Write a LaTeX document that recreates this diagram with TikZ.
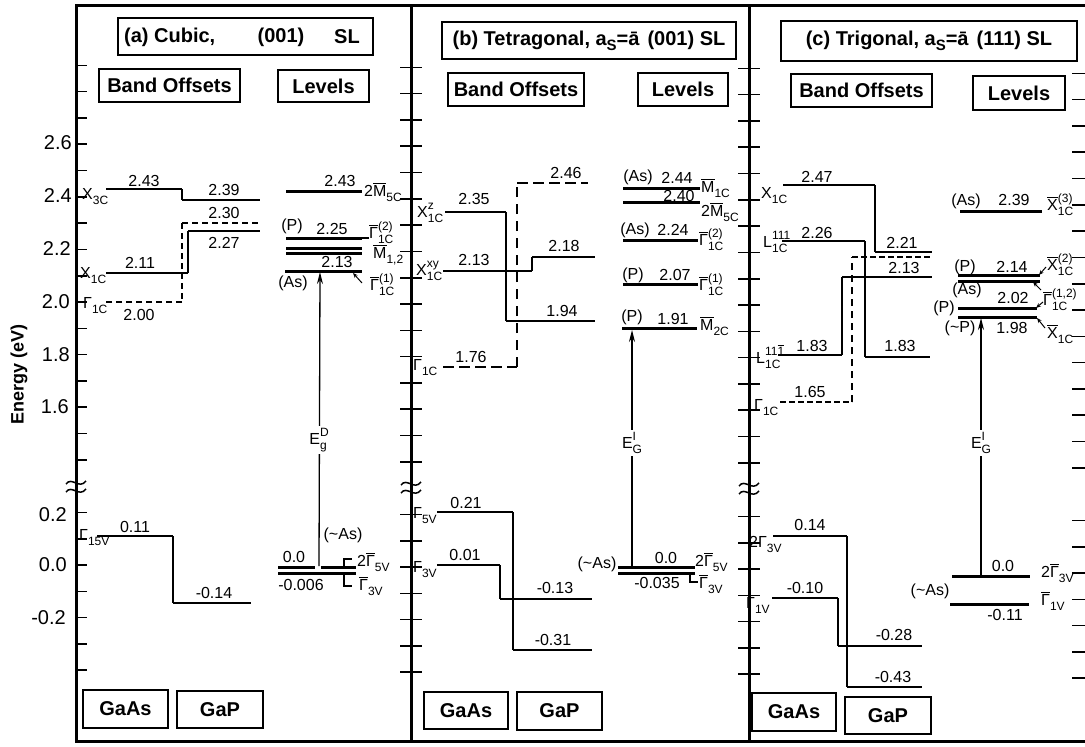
\documentclass[tikz,border=0pt]{standalone}
\usepackage{fontspec}
\setmainfont{Liberation Sans}
\usetikzlibrary{arrows.meta}
\newcommand\fnum{\fontsize{16}{18}\selectfont}
\newcommand\fbx{\fontsize{20}{24}\selectfont\bfseries}
\newcommand\fax{\fontsize{20}{24}\selectfont}
\newcommand\Ss[3]{#1\begingroup\fontsize{12}{12}\selectfont\setbox0=\hbox{#3}\setbox2=\hbox{#2}\ifdim\wd0>\wd2 \wd2=\wd0 \fi\rlap{\raisebox{8pt}{\box0}}\raisebox{-5pt}{\box2}\endgroup}
\newcommand\Sb[2]{#1\raisebox{-5pt}{\fontsize{12}{12}\selectfont #2}}
\newcommand\bb[1]{\ensuremath{\overline{\hbox{#1}}}}
\begin{document}
\begin{tikzpicture}[x=1pt,y=-1pt,
  hb/.style={line width=2.6pt},
  vb/.style={line width=1.4pt},
  lv/.style={line width=3pt},
  ds/.style={line width=1.6pt,dash pattern=on 6pt off 4pt},
  dsb/.style={line width=2pt,dash pattern=on 11pt off 5pt},
  dsc/.style={line width=2.6pt,dash pattern=on 6pt off 3pt},
  nm/.style={font=\fnum,inner sep=0pt},
  bx/.style={draw,line width=1.8pt,font=\fbx,inner sep=0pt},
  tk/.style={line width=1.6pt},
  frm/.style={line width=3pt},
  arr/.style={line width=1.3pt,-{Stealth[length=12pt,width=6pt]}},
  ld/.style={line width=1pt,-{Stealth[length=5pt,width=4pt]}},
  hook/.style={line width=1.1pt},
  brk/.pic={\draw[line width=1.5pt] (-10,-1) .. controls (-4,-9) and (3,5) .. (10,-4);
            \draw[line width=1.5pt] (-10,7) .. controls (-4,-1) and (3,13) .. (10,4);}
]
\useasboundingbox (0,0) rectangle (1085,747);
% frame
\draw[frm] (1085,5) -- (76,5) -- (76,741) -- (1085,741);
\draw[frm] (411,5) -- (411,741);
\draw[frm] (749,5) -- (749,741);
% ticks
\foreach \k in {14,...,29}{
  \draw[tk] (76,{828-26.3*\k}) -- (87,{828-26.3*\k});
  \draw[tk] (400,{830-26.3*\k}) -- (422,{830-26.3*\k});
  \draw[tk] (738,{831-26.3*\k}) -- (760,{831-26.3*\k});
  \draw[tk] (1072,{836-26.3*\k}) -- (1085,{836-26.3*\k});
}
\foreach \k in {-4,...,2}{
  \draw[tk] (76,{565-26.3*\k}) -- (87,{565-26.3*\k});
  \draw[tk] (400,{567-26.3*\k}) -- (422,{567-26.3*\k});
  \draw[tk] (738,{569-26.3*\k}) -- (760,{569-26.3*\k});
  \draw[tk] (1072,{573-26.3*\k}) -- (1085,{573-26.3*\k});
}
\pic at (76,485) {brk};
\pic at (411,486) {brk};
\pic at (749,487) {brk};
% y axis labels
\node[font=\fax,inner sep=0pt,anchor=east] (y1) at (72,143) {2.6};
\node[font=\fax,inner sep=0pt,anchor=east] (y2) at (72,196) {2.4};
\node[font=\fax,inner sep=0pt,anchor=east] (y3) at (71,249) {2.2};
\node[font=\fax,inner sep=0pt,anchor=east] (y4) at (70,302) {2.0};
\node[font=\fax,inner sep=0pt,anchor=east] (y5) at (70,355) {1.8};
\node[font=\fax,inner sep=0pt,anchor=east] (y6) at (69,407) {1.6};
\node[font=\fax,inner sep=0pt,anchor=east] (y7) at (67,515) {0.2};
\node[font=\fax,inner sep=0pt,anchor=east] (y8) at (67,565) {0.0};
\node[font=\fax,inner sep=0pt,anchor=east] (y9) at (66,618) {-0.2};
\node[font=\fontsize{18}{20}\selectfont\bfseries,rotate=90,inner sep=0pt] (ylab) at (19,374) {Energy (eV)};

% ================= panel (a)
\node[bx,minimum width=255pt,minimum height=37pt] (ta) at (245.5,36.5) {};
\node[font=\fbx,inner sep=0pt,anchor=west] (ta1) at (124,37) {(a) Cubic,};
\node[font=\fbx,inner sep=0pt] (ta2) at (281,37) {(001)};
\node[font=\fbx,inner sep=0pt] (ta3) at (347,37) {SL};
\node[bx,minimum width=141pt,minimum height=33pt] (boa) at (169.5,85.5) {Band Offsets};
\node[bx,minimum width=91pt,minimum height=32pt] (lva) at (323.5,86) {Levels};
\node[bx,minimum width=85pt,minimum height=38pt] (gaa) at (125.5,709) {GaAs};
\node[bx,minimum width=86pt,minimum height=37pt] (gpa) at (220,709.5) {GaP};
% band offsets
\draw[hb] (106,189) -- (182,189);
\draw[vb] (182,189) -- (182,200);
\draw[hb] (182,200) -- (260,200);
\draw[ds] (182,223) -- (261,223);
\draw[ds,line width=1.2pt] (182,223) -- (182,302);
\draw[ds] (182,302) -- (106,302);
\draw[hb] (188,231) -- (260,231);
\draw[vb] (188,231) -- (188,273);
\draw[hb] (188,273) -- (106,273);
\draw[hb] (97,536) -- (173,536);
\draw[vb] (173,536) -- (173,603);
\draw[hb] (173,603) -- (251,603);
\node[nm] (a1) at (144,181) {2.43};
\node[nm] (a2) at (224,190) {2.39};
\node[nm] (a3) at (224,213) {2.30};
\node[nm] (a4) at (224,243) {2.27};
\node[nm] (a5) at (140,263) {2.11};
\node[nm] (a6) at (139,315) {2.00};
\node[nm] (a7) at (135,527) {0.11};
\node[nm] (a8) at (214,593) {-0.14};
\node[nm,anchor=base west] (a9) at (82,199) {\Sb{X}{3C}};
\node[nm,anchor=base west] (a9b) at (80,278) {\Sb{X}{1C}};
\node[nm,anchor=base west] (a9c) at (83,308) {\Sb{Γ}{1C}};
\node[nm,anchor=base west] (a9d) at (79,540) {\Sb{Γ}{15V}};
% levels
\draw[lv] (286,191) -- (362,191);
\draw[lv] (286,238) -- (362,238);
\draw[lv] (286,248) -- (362,248);
\draw[lv] (286,253.5) -- (362,253.5);
\draw[lv] (285,271) -- (362,271);
\draw[lv] (278,567) -- (315,567);
\draw[lv] (321,567) -- (356,567);
\draw[lv] (278,573) -- (356,573);
\node[nm] (a10) at (340,181) {2.43};
\node[nm,anchor=base west] (a11) at (364,196) {2\bb{M}\Sb{}{5C}};
\node[nm] (a12) at (292,226) {(P)};
\node[nm] (a13) at (332,229) {2.25};
\node[nm,anchor=base west] (a14) at (369,238) {\Ss{\bb{Γ}}{1C}{(2)}};
\coordinate (a13e) at (362,238);
\draw[hook] (a13e) -- (a14.base west);
\node[nm,anchor=base west] (a15) at (373,258) {\Sb{\bb{M}}{1,2}};
\node[nm] (a16) at (337,262) {2.13};
\node[nm] (a17) at (293,283) {(As)};
\node[nm,anchor=base west] (a17b) at (370,290) {\Ss{\bb{Γ}}{1C}{(1)}};
\coordinate (a17e) at (353,273);
\draw[ld] (362,283) -- (a17e);
\coordinate (ea0) at (319,566);
\coordinate (ea1) at (320,272);
\draw[arr] (ea0) -- (ea1);
\node[nm,fill=white,inner sep=2pt] (a18) at (319,440) {\Ss{E}{g}{D}};
\node[nm] (a19) at (343,535) {(\textasciitilde As)};
\node[nm] (a20) at (294,557) {0.0};
\node[nm] (a21) at (301,585) {-0.006};
\draw[hook] (344,567) -- (344,559) -- (352,559);
\draw[hook] (344,573) -- (344,586) -- (352,586);
\node[nm,anchor=base west] (a22) at (357,566) {2\bb{Γ}\Sb{}{5V}};
\node[nm,anchor=base west] (a23) at (359,590) {\bb{Γ}\Sb{}{3V}};

% ================= panel (b)
\node[bx,minimum width=294pt,minimum height=37pt] (tb) at (589,40.5) {(b) Tetragonal, a\raisebox{-5pt}{\fontsize{15}{15}\selectfont S}=ā\hspace{8pt}(001) SL};
\node[bx,minimum width=136pt,minimum height=33pt] (bob) at (516,89.5) {Band Offsets};
\node[bx,minimum width=90pt,minimum height=33pt] (lvb) at (683,89.5) {Levels};
\node[bx,minimum width=84pt,minimum height=37pt] (gab) at (466,710.5) {GaAs};
\node[bx,minimum width=85pt,minimum height=38pt] (gpb) at (559.5,711) {GaP};
\draw[hb] (445,212) -- (506,212);
\draw[vb] (506,212) -- (506,321);
\draw[hb] (506,321) -- (595,321);
\draw[hb] (443,271) -- (532,271);
\draw[vb] (532,271) -- (532,257);
\draw[hb] (532,257) -- (595,257);
\draw[dsb] (443,367) -- (517,367);
\draw[dsb,line width=1.2pt,dash pattern=on 10pt off 7pt] (517,367) -- (517,183);
\draw[dsb] (517,183) -- (588,183);
\draw[hb] (437,512) -- (513,512);
\draw[vb] (513,512) -- (513,650);
\draw[hb] (513,650) -- (592,650);
\draw[hb] (437,565) -- (500,565);
\draw[vb] (500,565) -- (500,599);
\draw[hb] (500,599) -- (592,599);
\node[nm] (b1) at (474,199) {2.35};
\node[nm] (b2) at (474,260) {2.13};
\node[nm] (b3) at (471,357) {1.76};
\node[nm] (b4) at (566,173) {2.46};
\node[nm] (b5) at (564,246) {2.18};
\node[nm] (b6) at (562,311) {1.94};
\node[nm,anchor=base west] (b7) at (417,217) {\Ss{X}{1C}{z}};
\node[nm,anchor=base west] (b8) at (416,275) {\Ss{X}{1C}{xy}};
\node[nm,anchor=base west] (b9) at (413,370) {\Sb{Γ}{1C}};
\node[nm] (b10) at (466,503) {0.21};
\node[nm] (b11) at (465,555) {0.01};
\node[nm] (b12) at (555,588) {-0.13};
\node[nm] (b13) at (553,640) {-0.31};
\node[nm,anchor=base west] (b14) at (413,518) {\Sb{Γ}{5V}};
\node[nm,anchor=base west] (b15) at (413,572) {\Sb{Γ}{3V}};
% levels
\draw[lv] (623,188) -- (700,188);
\draw[lv] (623,202) -- (700,202);
\draw[lv] (623,240) -- (698,240);
\draw[lv] (623,284) -- (698,284);
\draw[lv] (622,328) -- (697,328);
\draw[lv] (618,567) -- (695,567);
\draw[lv] (618,573) -- (695,573);
\node[nm] (b16) at (638,177) {(As)};
\node[nm] (b17) at (677,178) {2.44};
\node[nm,anchor=base west] (b18) at (701,192) {\bb{M}\Sb{}{1C}};
\node[nm] (b19) at (679,196) {2.40};
\node[nm,anchor=base west] (b20) at (701,216) {2\bb{M}\Sb{}{5C}};
\node[nm] (b21) at (635,230) {(As)};
\node[nm] (b22) at (673,230) {2.24};
\node[nm,anchor=base west] (b23) at (699,245) {\Ss{\bb{Γ}}{1C}{(2)}};
\node[nm] (b24) at (633,275) {(P)};
\node[nm] (b25) at (675,275) {2.07};
\node[nm,anchor=base west] (b26) at (699,290) {\Ss{\bb{Γ}}{1C}{(1)}};
\node[nm] (b27) at (632,317) {(P)};
\node[nm] (b28) at (673,319) {1.91};
\node[nm,anchor=base west] (b29) at (700,330) {\bb{M}\Sb{}{2C}};
\coordinate (eb0) at (632,567);
\coordinate (eb1) at (632,330);
\draw[arr] (eb0) -- (eb1);
\node[nm,fill=white,inner sep=2pt] (b30) at (632,443) {\Ss{E}{G}{I}};
\node[nm] (b31) at (597,564) {(\textasciitilde As)};
\node[nm] (b32) at (666,558) {0.0};
\node[nm] (b33) at (657,583) {-0.035};
\node[nm,anchor=base west] (b34) at (695,566) {2\bb{Γ}\Sb{}{5V}};
\draw[hook] (690,573) -- (690,582) -- (698,582);
\node[nm,anchor=base west] (b35) at (699,588) {\bb{Γ}\Sb{}{3V}};

% ================= panel (c)
\node[bx,minimum width=296pt,minimum height=40pt] (tc) at (929,41) {(c) Trigonal, a\raisebox{-5pt}{\fontsize{15}{15}\selectfont S}=ā\hspace{8pt}(111) SL};
\node[bx,minimum width=141pt,minimum height=33pt] (boc) at (861.5,90.5) {Band Offsets};
\node[bx,minimum width=92pt,minimum height=34pt] (lvc) at (1019,93) {Levels};
\node[bx,minimum width=84pt,minimum height=38pt] (gac) at (794,712) {GaAs};
\node[bx,minimum width=86pt,minimum height=37pt] (gpc) at (888,715.5) {GaP};
\draw[hb] (783,185) -- (875,185);
\draw[vb] (875,185) -- (875,252);
\draw[hb] (875,252) -- (932,252);
\draw[hb] (782,241) -- (865,241);
\draw[vb] (865,241) -- (865,357);
\draw[hb] (865,357) -- (930,357);
\draw[hb] (778,355) -- (842,355);
\draw[vb] (842,355) -- (842,277);
\draw[hb] (842,277) -- (932,277);
\draw[dsc] (780,402) -- (852,402);
\draw[dsc,line width=1.2pt,dash pattern=on 7pt off 5pt] (852,402) -- (852,257);
\draw[dsc] (852,257) -- (932,257);
\draw[hb] (773,536) -- (847,536);
\draw[vb] (847,536) -- (847,687);
\draw[hb] (847,687) -- (922,687);
\draw[hb] (772,598) -- (838,598);
\draw[vb] (838,598) -- (838,646);
\draw[hb] (838,646) -- (922,646);
\node[nm] (c1) at (817,177) {2.47};
\node[nm] (c2) at (817,233) {2.26};
\node[nm] (c3) at (902,243) {2.21};
\node[nm] (c4) at (904,268) {2.13};
\node[nm] (c5) at (812,346) {1.83};
\node[nm] (c6) at (900,346) {1.83};
\node[nm] (c7) at (810,392) {1.65};
\node[nm,anchor=base west] (c8) at (761,198) {\Sb{X}{1C}};
\node[nm,anchor=base west] (c9) at (763,247) {\Ss{L}{1C}{111}};
\node[nm,anchor=base west] (c10) at (756,363) {\Ss{L}{1C}{11\bb{1}}};
\node[nm,anchor=base west] (c11) at (754,410) {\Sb{Γ}{1C}};
\node[nm] (c12) at (810,525) {0.14};
\node[nm] (c13) at (805,588) {-0.10};
\node[nm] (c14) at (894,635) {-0.28};
\node[nm] (c15) at (893,677) {-0.43};
\node[nm,anchor=base west] (c16) at (749,547) {2\Sb{Γ}{3V}};
\node[nm,anchor=base west] (c17) at (746,608) {\Sb{Γ}{1V}};
% levels
\draw[lv] (960,211) -- (1042,211);
\draw[lv,line width=2.4pt] (958,275.5) -- (1040,275.5);
\draw[lv,line width=2.4pt] (958,281.5) -- (1040,281.5);
\draw[lv] (958,308) -- (1037,308);
\draw[lv] (958,317) -- (1037,317);
\draw[lv] (952,576) -- (1030,576);
\draw[lv] (950,604) -- (1029,604);
\node[nm] (c18) at (966,201) {(As)};
\node[nm] (c19) at (1014,200) {2.39};
\node[nm,anchor=base west] (c20) at (1047,210) {\Ss{\bb{X}}{1C}{(3)}};
\node[nm] (c21) at (965,267) {(P)};
\node[nm] (c22) at (1012,267) {2.14};
\node[nm,anchor=base west] (c23) at (1047,270) {\Ss{\bb{X}}{1C}{(2)}};
\node[nm] (c24) at (967,290) {(As)};
\node[nm] (c25) at (944,308) {(P)};
\node[nm] (c26) at (1013,298) {2.02};
\node[nm,anchor=base west] (c27) at (1043,305) {\Ss{\bb{Γ}}{1C}{(1,2)}};
\node[nm] (c28) at (960,328) {(\textasciitilde P)};
\node[nm] (c29) at (1012,328) {1.98};
\node[nm,anchor=base west] (c30) at (1047,338) {\bb{X}\Sb{}{1C}};
\coordinate (c22e) at (1039,275);
\coordinate (c24e) at (1033,282);
\coordinate (c26e) at (1036,308);
\coordinate (c29e) at (1037,318);
\draw[ld] (1046,267) -- (c22e);
\draw[ld] (1041,290) -- (c24e);
\draw[ld] (1043,302) -- (c26e);
\draw[ld] (1045,328) -- (c29e);
\coordinate (ec0) at (981,576);
\coordinate (ec1) at (981,318);
\draw[arr] (ec0) -- (ec1);
\node[nm,fill=white,inner sep=2pt] (c31) at (981,443) {\Ss{E}{G}{I}};
\node[nm] (c32) at (1003,566) {0.0};
\node[nm,anchor=base west] (c33) at (1041,577) {2\bb{Γ}\Sb{}{3V}};
\node[nm,anchor=base west] (c34) at (1041,605) {\bb{Γ}\Sb{}{1V}};
\node[nm] (c35) at (1005,615) {-0.11};
\node[nm] (c36) at (930,591) {(\textasciitilde As)};
\end{tikzpicture}
\end{document}
